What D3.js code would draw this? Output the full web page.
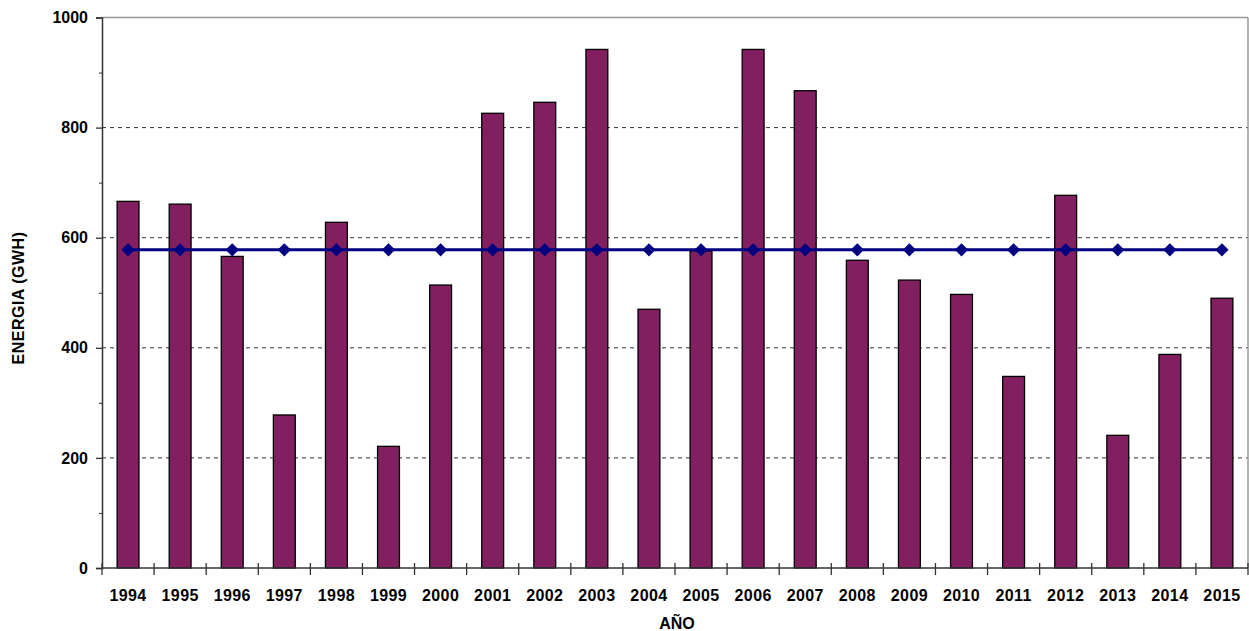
<!DOCTYPE html>
<html><head><meta charset="utf-8">
<script src="https://cdn.jsdelivr.net/npm/d3@7"></script>
<style>body{margin:0;background:#fff;} svg{display:block;} text{font-family:"Liberation Sans",Arial,sans-serif;font-weight:bold;fill:#000;}</style>
</head><body>
<svg id="c" width="1249" height="631"></svg>
<script>
const years = ["1994","1995","1996","1997","1998","1999","2000","2001","2002","2003","2004","2005","2006","2007","2008","2009","2010","2011","2012","2013","2014","2015"];
const energy = [666,661,566,278,628,221,514,826,846,942,470,576,942,867,559,523,497,348,677,241,388,490];
const average = [578,578,578,578,578,578,578,578,578,578,578,578,578,578,578,578,578,578,578,578,578,578];
const yTicks = [0,200,400,600,800,1000];
const yMinorTicks = [100,300,500,700,900];

const svg = d3.select("#c");
const L = 102, R = 1248, T = 17.5, B = 568;
const x = d3.scaleBand().domain(years).range([L, R]).paddingInner(0.58).paddingOuter(0.29);
const xb = d3.scaleBand().domain(years).range([L, R]);
const y = d3.scaleLinear().domain([0,1000]).range([B, T]);

// gridlines
svg.append("g").selectAll("line").data(yTicks.filter(d => d>0 && d<1000)).join("line")
  .attr("x1", L).attr("x2", R).attr("y1", d=>y(d)).attr("y2", d=>y(d))
  .attr("stroke", "#000").attr("stroke-width", 0.8).attr("stroke-dasharray", "4,4");
// top and right borders
svg.append("line").attr("x1", L).attr("x2", R).attr("y1", y(1000)).attr("y2", y(1000)).attr("stroke", "#999").attr("stroke-width", 1.5);
svg.append("line").attr("x1", R).attr("x2", R).attr("y1", y(1000)).attr("y2", B).attr("stroke", "#999").attr("stroke-width", 1.5);

// bars
svg.append("g").selectAll("rect").data(energy).join("rect")
  .attr("x", (d,i)=>x(years[i])).attr("width", x.bandwidth())
  .attr("y", d=>y(d)).attr("height", d=>B - y(d))
  .attr("fill", "#821f60").attr("stroke", "#000").attr("stroke-width", 1.3);

// average line
const line = d3.line().x((d,i)=>x(years[i]) + x.bandwidth()/2).y(d=>y(d));
svg.append("path").datum(average).attr("d", line).attr("fill","none").attr("stroke","#000080").attr("stroke-width",3);
svg.append("g").selectAll("path").data(average).join("path")
  .attr("d", d3.symbol(d3.symbolSquare, 88))
  .attr("transform", (d,i)=>`translate(${x(years[i]) + x.bandwidth()/2},${y(d)}) rotate(45)`)
  .attr("fill", "#000080");

// y axis
const yAxis = d3.axisLeft(y).tickValues(yTicks).tickSize(6).tickPadding(8).tickFormat(d3.format("d"));
const gy = svg.append("g").attr("transform", `translate(${L},0)`).call(yAxis);
gy.select(".domain").attr("stroke", "#333").attr("stroke-width", 1.5);
gy.selectAll(".tick line").attr("stroke", "#333").attr("stroke-width", 1.3);
gy.selectAll("text").style("font-size", "16px").style("font-weight", "bold").style("font-family", '"Liberation Sans",Arial,sans-serif');
const yMinor = d3.axisLeft(y).tickValues(yMinorTicks).tickSize(3).tickFormat("");
const gym = svg.append("g").attr("transform", `translate(${L},0)`).call(yMinor);
gym.select(".domain").remove();
gym.selectAll(".tick line").attr("stroke", "#333");

// x axis
svg.append("line").attr("x1", L).attr("x2", R).attr("y1", B).attr("y2", B).attr("stroke", "#333").attr("stroke-width", 1.5);
const bounds = years.map(d=>xb(d)).concat([R]);
svg.append("g").selectAll("line").data(bounds).join("line")
  .attr("x1", d=>d).attr("x2", d=>d).attr("y1", B-5).attr("y2", B+7)
  .attr("stroke", "#333").attr("stroke-width", 1.3);
svg.append("g").selectAll("text").data(years).join("text")
  .attr("x", d=>xb(d)+xb.bandwidth()/2).attr("y", 601)
  .attr("text-anchor", "middle").style("font-size","16px").style("letter-spacing","0.4px").text(d=>d);

// axis titles
svg.append("text").attr("x", 677).attr("y", 629).attr("text-anchor","middle").style("font-size","16px").text("AÑO");
svg.append("text").attr("transform","translate(24,298) rotate(-90)").attr("text-anchor","middle").style("font-size","16px").style("letter-spacing","0.5px").text("ENERGIA (GWH)");
</script>
</body></html>
